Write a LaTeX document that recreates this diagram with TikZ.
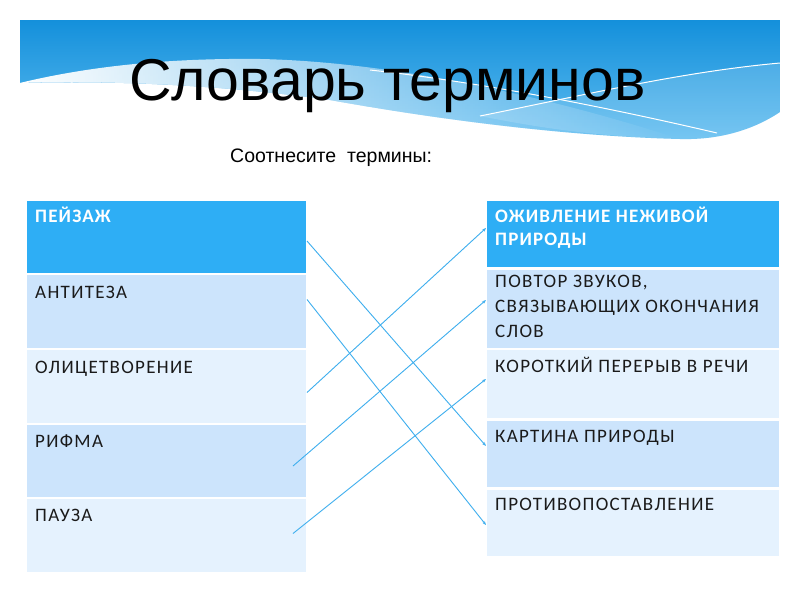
\documentclass[tikz,border=0pt]{standalone}
\usepackage{fontspec}
\setmainfont{Carlito}
\newfontfamily\arialf{Liberation Sans}
\usetikzlibrary{calc,arrows.meta,fadings}
\definecolor{hdr}{HTML}{2EAEF5}
\definecolor{rowA}{HTML}{CCE4FC}
\definecolor{rowB}{HTML}{E5F2FE}
\definecolor{bandtop}{HTML}{1490DB}
\definecolor{bandbot}{HTML}{5EBCF0}
\definecolor{conn}{HTML}{3DAEEE}
\definecolor{txtc}{HTML}{1A1A1A}
\tikzfading[name=swooshfade, left color=transparent!0, middle color=transparent!15, right color=transparent!100]
\begin{document}
\begin{tikzpicture}[x=1pt,y=-1pt,
  cell/.style={rectangle, draw=none, anchor=north west, inner sep=0pt, outer sep=0pt},
  lcell/.style={cell, minimum width=279pt},
  rcell/.style={cell, minimum width=292pt},
  celltxt/.style={anchor=base west, inner sep=0pt, align=left, text=txtc,
     font=\fontsize{19}{25}\selectfont\addfontfeatures{LetterSpace=7}},
  hdrtxt/.style={celltxt, text=white, font=\fontsize{19}{23}\selectfont\bfseries\addfontfeatures{LetterSpace=6}},
  link/.style={draw=conn, line width=0.9pt, -{Stealth[length=4pt,width=3pt]}}
]
\useasboundingbox[fill=white] (0,0) rectangle (800,600);

% header band
\shade[top color=bandtop, bottom color=bandbot]
  (20,20) -- (780,20) -- (780,112)
  .. controls (750,132) and (715,140) .. (680,139)
  .. controls (560,136) and (430,118) .. (330,100)
  .. controls (230,86) and (120,80) .. (20,83) -- cycle;
\fill[white, path fading=swooshfade]
  (20,83) .. controls (90,66) and (170,58) .. (260,59)
  .. controls (400,62) and (560,100) .. (680,139)
  .. controls (560,136) and (430,118) .. (330,100)
  .. controls (230,86) and (120,80) .. (20,83) -- cycle;
\fill[white, opacity=0.15]
  (480,116) .. controls (580,96) and (680,72) .. (780,63) -- (780,112)
  .. controls (750,132) and (715,140) .. (680,139)
  .. controls (600,137) and (540,128) .. (480,116) -- cycle;
\draw[white, line width=1pt] (370,70) .. controls (480,82) and (610,108) .. (717,133);
\draw[white, line width=1pt] (480,116) .. controls (580,96) and (680,72) .. (780,63);

% titles
\node[anchor=base west, inner sep=0pt, font=\arialf\fontsize{59}{70}\selectfont] (title) at (129,100) {Словарь терминов};
\node[anchor=base west, inner sep=0pt, font=\arialf\fontsize{19.5}{22}\selectfont] (sub) at (230,162) {Соотнесите~~термины:};

% left table
\node[lcell, fill=hdr,  minimum height=72pt] (L1) at (27,201) {};
\node[lcell, fill=rowA, minimum height=73pt] (L2) at (27,275) {};
\node[lcell, fill=rowB, minimum height=73pt] (L3) at (27,350) {};
\node[lcell, fill=rowA, minimum height=72pt] (L4) at (27,425) {};
\node[lcell, fill=rowB, minimum height=73pt] (L5) at (27,499) {};
\node[hdrtxt]  (L1t) at ($(L1.north west)+(8,21)$) {ПЕЙЗАЖ};
\node[celltxt] (L2t) at ($(L2.north west)+(8,23)$) {АНТИТЕЗА};
\node[celltxt] (L3t) at ($(L3.north west)+(8,23)$) {ОЛИЦЕТВОРЕНИЕ};
\node[celltxt] (L4t) at ($(L4.north west)+(8,22)$) {РИФМА};
\node[celltxt] (L5t) at ($(L5.north west)+(8,22)$) {ПАУЗА};

% right table
\node[rcell, fill=hdr,  minimum height=66pt] (R1) at (487,201) {};
\node[rcell, fill=rowA, minimum height=78pt] (R2) at (487,270) {};
\node[rcell, fill=rowB, minimum height=68pt] (R3) at (487,350) {};
\node[rcell, fill=rowA, minimum height=66pt] (R4) at (487,421) {};
\node[rcell, fill=rowB, minimum height=66pt] (R5) at (487,490) {};
% multi-line nodes: base anchor is the last line's baseline
\node[hdrtxt]  (R1t) at ($(R1.north west)+(8,44)$) {ОЖИВЛЕНИЕ НЕЖИВОЙ\\ПРИРОДЫ};
\node[celltxt] (R2t) at ($(R2.north west)+(8,67)$) {ПОВТОР ЗВУКОВ,\\СВЯЗЫВАЮЩИХ ОКОНЧАНИЯ\\СЛОВ};
\node[celltxt] (R3t) at ($(R3.north west)+(8,22)$) {КОРОТКИЙ ПЕРЕРЫВ В РЕЧИ};
\node[celltxt] (R4t) at ($(R4.north west)+(8,21)$) {КАРТИНА ПРИРОДЫ};
\node[celltxt] (R5t) at ($(R5.north west)+(8,20)$) {ПРОТИВОПОСТАВЛЕНИЕ};

% connector ends
\coordinate (a1) at ($(L1.east)+(1,4)$);
\coordinate (a2) at ($(L2.east)+(1,-12)$);
\coordinate (a3) at ($(L3.east)+(1,6)$);
\coordinate (a4) at ($(L4.east)+(-13,5)$);
\coordinate (a5) at ($(L5.east)+(-13,-2)$);
\coordinate (b1) at ($(R1.west)+(-1,-6)$);
\coordinate (b2) at ($(R2.west)+(-1,-9)$);
\coordinate (b3) at ($(R3.west)+(-1,-5)$);
\coordinate (b4) at ($(R4.west)+(-1,-8)$);
\coordinate (b5) at ($(R5.west)+(-1,2)$);

\draw[link] (a1) -- (b4);
\draw[link] (a2) -- (b5);
\draw[link] (a3) -- (b1);
\draw[link] (a4) -- (b2);
\draw[link] (a5) -- (b3);
\end{tikzpicture}
\end{document}
